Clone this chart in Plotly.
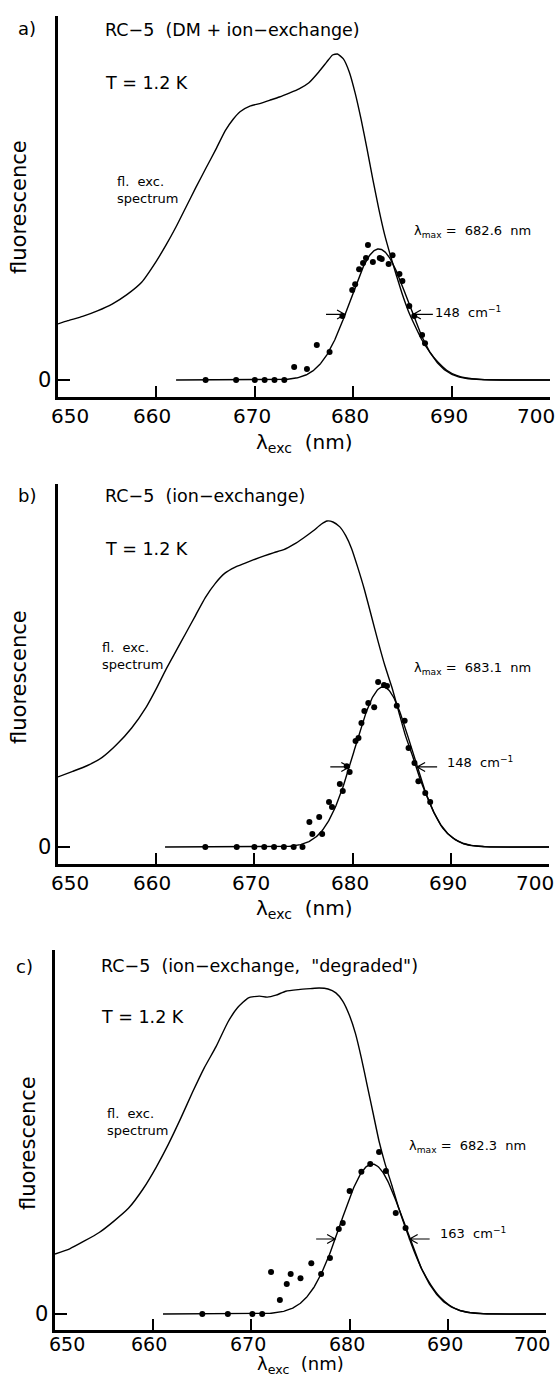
import numpy as np
import plotly.graph_objects as go

W, H = 556, 1376
FONT = "DejaVu Sans"
NB = "\u00a0"

# wavelength axis ticks shared by the three panels
tick_nm = [650, 660, 670, 680, 690, 700]
tick_text = ["650", "660", "670", "680", "690", "700"]

# ---------------- a) RC-5 (DM + ion-exchange) ----------------
a_exc_nm = [650.0, 651.0, 652.5, 654.0, 655.5, 657.0, 658.5, 660.0, 661.0, 662.0,
            663.0, 664.0, 665.0, 666.0, 667.0, 667.8, 668.5, 669.5, 670.5, 671.5,
            672.5, 673.5, 674.5, 675.5, 676.5, 677.3, 677.9, 678.4, 679.0, 679.6,
            680.2, 680.8, 681.4, 682.0, 682.6, 683.2, 683.8, 684.4, 685.0, 685.6,
            686.3, 687.0, 687.8, 688.6, 689.5, 690.5, 691.5, 693.0, 695.0, 700.0]
a_exc = [0.172, 0.182, 0.195, 0.212, 0.233, 0.262, 0.300, 0.365, 0.415, 0.470,
         0.530, 0.590, 0.648, 0.705, 0.765, 0.800, 0.823, 0.840, 0.848, 0.858,
         0.868, 0.880, 0.893, 0.912, 0.945, 0.975, 0.997, 1.000, 0.985, 0.945,
         0.880, 0.800, 0.710, 0.615, 0.525, 0.445, 0.380, 0.320, 0.262, 0.212,
         0.165, 0.122, 0.085, 0.055, 0.030, 0.014, 0.006, 0.002, 0.0, 0.0]
a_pts_nm = [665.0, 668.1, 670.0, 671.0, 672.0, 673.0, 674.0, 675.3, 676.3, 677.6,
            678.9, 679.9, 680.2, 680.6, 681.0, 681.3, 681.5, 682.0, 682.7, 682.9,
            683.6, 684.0, 684.7, 685.0, 685.7, 686.2, 687.0, 687.3]
a_pts = [0.0, 0.0, 0.0, 0.0, 0.0, 0.0, 0.040, 0.034, 0.107, 0.086,
         0.196, 0.276, 0.294, 0.340, 0.359, 0.374, 0.414, 0.362, 0.374, 0.371,
         0.356, 0.383, 0.325, 0.304, 0.227, 0.196, 0.138, 0.113]
a_lmax = 682.6      # nm
a_fwhm = 148        # cm-1
a_amp = 0.402
a_fit_from = 662.0

# ---------------- b) RC-5 (ion-exchange) ----------------
b_exc_nm = [650.0, 651.5, 653.0, 654.5, 656.0, 657.5, 659.0, 660.0, 661.0, 662.0,
            663.0, 664.0, 665.0, 666.0, 667.0, 668.0, 669.0, 670.0, 671.0, 672.0,
            673.0, 674.0, 675.0, 676.0, 676.8, 677.4, 678.0, 678.7, 679.3, 679.9,
            680.5, 681.2, 681.9, 682.6, 683.3, 684.0, 684.7, 685.4, 686.1, 686.8,
            687.5, 688.3, 689.2, 690.2, 691.3, 692.5, 694.0, 700.0]
b_exc = [0.215, 0.232, 0.250, 0.275, 0.315, 0.365, 0.430, 0.485, 0.545, 0.600,
         0.655, 0.710, 0.765, 0.808, 0.840, 0.858, 0.870, 0.882, 0.893, 0.903,
         0.912, 0.928, 0.948, 0.970, 0.990, 1.000, 0.997, 0.982, 0.955, 0.915,
         0.860, 0.790, 0.710, 0.630, 0.555, 0.490, 0.415, 0.340, 0.280, 0.215,
         0.160, 0.105, 0.057, 0.028, 0.010, 0.003, 0.0, 0.0]
b_pts_nm = [665.0, 668.2, 670.0, 671.0, 672.0, 673.0, 674.0, 674.9, 675.6, 676.6,
            675.9, 676.9, 677.6, 677.9, 678.7, 679.0, 679.4, 679.7, 680.3, 680.6,
            680.9, 681.2, 681.6, 682.2, 682.6, 683.2, 683.5, 684.5, 685.3, 685.7,
            686.3, 686.7, 687.4, 687.9]
b_pts = [0.0, 0.0, 0.0, 0.0, 0.0, 0.0, 0.0, 0.0, 0.077, 0.092,
         0.040, 0.040, 0.138, 0.123, 0.193, 0.172, 0.248, 0.230, 0.325, 0.334,
         0.380, 0.417, 0.442, 0.429, 0.506, 0.497, 0.494, 0.433, 0.387, 0.304,
         0.258, 0.202, 0.166, 0.138]
b_lmax = 683.1
b_fwhm = 148
b_amp = 0.491
b_fit_from = 660.9

# ---------------- c) RC-5 (ion-exchange, "degraded") ----------------
c_exc_nm = [650.0, 651.5, 653.0, 654.5, 656.0, 657.5, 659.0, 660.3, 661.5, 662.8,
            664.0, 665.2, 666.4, 667.6, 668.6, 669.7, 670.8, 671.6, 672.5, 673.5,
            674.8, 676.0, 676.9, 677.8, 678.6, 679.3, 680.0, 680.6, 681.2, 681.8,
            682.4, 683.0, 683.6, 684.3, 685.0, 685.8, 686.6, 687.4, 688.3, 689.2,
            690.2, 691.3, 692.5, 694.0, 700.0]
c_exc = [0.184, 0.200, 0.224, 0.250, 0.285, 0.325, 0.385, 0.450, 0.518, 0.600,
         0.680, 0.755, 0.820, 0.895, 0.940, 0.970, 0.975, 0.972, 0.978, 0.990,
         0.995, 0.998, 1.000, 0.997, 0.985, 0.960, 0.915, 0.860, 0.785, 0.700,
         0.615, 0.530, 0.462, 0.395, 0.325, 0.255, 0.190, 0.135, 0.088, 0.052,
         0.026, 0.010, 0.003, 0.0, 0.0]
c_pts_nm = [665.0, 667.6, 670.1, 671.1, 672.0, 672.9, 673.6, 674.0, 675.0, 676.1,
            677.1, 678.0, 678.9, 679.3, 680.0, 681.2, 682.1, 683.0, 683.7, 684.7,
            685.7]
c_pts = [0.0, 0.0, 0.0, 0.0, 0.129, 0.043, 0.092, 0.123, 0.110, 0.156,
         0.123, 0.172, 0.261, 0.279, 0.377, 0.436, 0.460, 0.497, 0.439, 0.310,
         0.264]
c_lmax = 682.3
c_fwhm = 163
c_amp = 0.460
c_fit_from = 661.0

panels = [
    dict(tag="a)", title=f"RC−5{NB}{NB}(DM + ion−exchange)",
         exc_nm=a_exc_nm, exc=a_exc, pts_nm=a_pts_nm, pts=a_pts,
         lmax=a_lmax, fwhm=a_fwhm, amp=a_amp, fit_from=a_fit_from),
    dict(tag="b)", title=f"RC−5{NB}{NB}(ion−exchange)",
         exc_nm=b_exc_nm, exc=b_exc, pts_nm=b_pts_nm, pts=b_pts,
         lmax=b_lmax, fwhm=b_fwhm, amp=b_amp, fit_from=b_fit_from),
    dict(tag="c)", title=f"RC−5{NB}{NB}(ion−exchange,{NB}{NB}\"degraded\")",
         exc_nm=c_exc_nm, exc=c_exc, pts_nm=c_pts_nm, pts=c_pts,
         lmax=c_lmax, fwhm=c_fwhm, amp=c_amp, fit_from=c_fit_from),
]

# page geometry of each panel (pixels) and placement of its texts
geom = [
    dict(x0=58, x1=550, top=16, zero=380, axis=397, unit=326,
         tick_gap=5, tick_size=20,
         tag=(16, 28), title=(103, 30), temp=(103, 83), exc_lbl=(115, 181),
         lmax_lbl=(412, 232), fwhm_lbl=(433, 312), ylab=(19, 207), xlab=(304, 443),
         xlab_size=20, zero_lbl=44),
    dict(x0=58, x1=549, top=484, zero=847, axis=864, unit=326,
         tick_gap=5, tick_size=20,
         tag=(16, 496), title=(103, 496), temp=(103, 549), exc_lbl=(100, 647),
         lmax_lbl=(412, 668), fwhm_lbl=(445, 762), ylab=(19, 677), xlab=(304, 909),
         xlab_size=20, zero_lbl=44),
    dict(x0=55, x1=546, top=950, zero=1314, axis=1330, unit=326,
         tick_gap=1, tick_size=19,
         tag=(14, 966), title=(99, 966), temp=(99, 1017), exc_lbl=(105, 1113),
         lmax_lbl=(407, 1146), fwhm_lbl=(438, 1233), ylab=(28, 1143), xlab=(300, 1365),
         xlab_size=18, zero_lbl=41),
]
tick_shift = {650: 12, 660: -4, 670: -3, 680: -3, 690: -3, 700: -14}

# open arrowhead with its shaft, in pixels relative to the arrow tip
ARROW_IN = "M-19,0 L0,0 M-8,-4.5 L0,0 L-8,4.5"     # points to the right
ARROW_OUT = "M20,0 L0,0 M8,-4.5 L0,0 L8,4.5"       # points to the left


def fx(p):
    return p / W


def fy(p):
    return 1 - p / H


def gauss_fit(center_nm, fwhm_cm, amp, start_nm, end_nm=700.0, n=500):
    """Gaussian band in wavenumber space, evaluated on a wavelength grid."""
    lam = np.linspace(start_nm, end_nm, n)
    nu, nu0 = 1e7 / lam, 1e7 / center_nm
    sigma = fwhm_cm / (2 * np.sqrt(2 * np.log(2)))
    return lam, amp * np.exp(-0.5 * ((nu - nu0) / sigma) ** 2)


fig = go.Figure()
ann = []
shapes = []
txt = dict(family=FONT, color="black")

for i, (d, g) in enumerate(zip(panels, geom), start=1):
    xa = "x" if i == 1 else f"x{i}"
    ya = "y" if i == 1 else f"y{i}"
    xkey = "xaxis" if i == 1 else f"xaxis{i}"
    ykey = "yaxis" if i == 1 else f"yaxis{i}"

    fig.add_trace(go.Scatter(x=d["exc_nm"], y=d["exc"], mode="lines",
                             line=dict(color="black", width=1.4, shape="spline", smoothing=0.5),
                             xaxis=xa, yaxis=ya, hoverinfo="skip"))
    lam, fit = gauss_fit(d["lmax"], d["fwhm"], d["amp"], d["fit_from"])
    fig.add_trace(go.Scatter(x=lam, y=fit, mode="lines",
                             line=dict(color="black", width=1.4),
                             xaxis=xa, yaxis=ya, hoverinfo="skip"))
    fig.add_trace(go.Scatter(x=d["pts_nm"], y=d["pts"], mode="markers",
                             marker=dict(color="black", size=6),
                             xaxis=xa, yaxis=ya, hoverinfo="skip"))

    y_lo = -(g["axis"] - g["zero"]) / g["unit"]
    y_hi = (g["zero"] - g["top"]) / g["unit"]
    fig.update_layout(**{
        xkey: dict(domain=[fx(g["x0"]), fx(g["x1"])], range=[650, 700], anchor=ya,
                   showline=True, linewidth=3, linecolor="black", mirror=False,
                   ticks="inside", tickvals=tick_nm[1:], ticklen=11, tickwidth=2,
                   tickcolor="black", showticklabels=False, showgrid=False,
                   zeroline=False, fixedrange=True),
        ykey: dict(domain=[fy(g["axis"]), fy(g["top"])], range=[y_lo, y_hi], anchor=xa,
                   showline=True, linewidth=3, linecolor="black", mirror=False,
                   ticks="inside", tickvals=[0], ticklen=12, tickwidth=2,
                   tickcolor="black", showticklabels=False, showgrid=False,
                   zeroline=False, fixedrange=True),
    })

    # wavelength tick labels
    for v, t in zip(tick_nm, tick_text):
        ann.append(dict(x=v, xref=xa, y=fy(g["axis"] + g["tick_gap"]), yref="paper",
                        text=t, showarrow=False, xanchor="center", yanchor="top",
                        xshift=tick_shift[v], font=dict(size=g["tick_size"], **txt)))
    ann.append(dict(x=fx(g["zero_lbl"]), xref="paper", y=0, yref=ya, text="0",
                    showarrow=False, xanchor="center", yanchor="middle",
                    font=dict(size=21, **txt)))
    ann.append(dict(x=fx(g["xlab"][0]), y=fy(g["xlab"][1]), xref="paper", yref="paper",
                    text=f"λ<sub>exc</sub>{NB}{NB}(nm)", showarrow=False,
                    xanchor="center", yanchor="middle",
                    font=dict(size=g["xlab_size"], **txt)))
    ann.append(dict(x=fx(g["ylab"][0]), y=fy(g["ylab"][1]), xref="paper", yref="paper",
                    text="fluorescence", textangle=-90, showarrow=False,
                    xanchor="center", yanchor="middle", font=dict(size=21, **txt)))
    ann.append(dict(x=fx(g["tag"][0]), y=fy(g["tag"][1]), xref="paper", yref="paper",
                    text=d["tag"], showarrow=False, xanchor="left", yanchor="middle",
                    font=dict(size=18, **txt)))
    ann.append(dict(x=fx(g["title"][0]), y=fy(g["title"][1]), xref="paper", yref="paper",
                    text=d["title"], showarrow=False, xanchor="left", yanchor="middle",
                    font=dict(size=17.5, **txt)))
    ann.append(dict(x=fx(g["temp"][0]), y=fy(g["temp"][1]), xref="paper", yref="paper",
                    text="T = 1.2 K", showarrow=False, xanchor="left", yanchor="middle",
                    font=dict(size=17.5, **txt)))
    ann.append(dict(x=fx(g["exc_lbl"][0]), y=fy(g["exc_lbl"][1] + 9), xref="paper",
                    yref="paper", text="fl.  exc.<br>spectrum", align="left",
                    showarrow=False, xanchor="left", yanchor="middle",
                    font=dict(size=13, **txt)))
    ann.append(dict(x=fx(g["lmax_lbl"][0]), y=fy(g["lmax_lbl"][1]), xref="paper",
                    yref="paper",
                    text=f"λ<sub>max</sub>{NB}={NB}{NB}{d['lmax']:.1f}{NB}{NB}nm",
                    showarrow=False, xanchor="left", yanchor="middle",
                    font=dict(size=13, **txt)))
    ann.append(dict(x=fx(g["fwhm_lbl"][0]), y=fy(g["fwhm_lbl"][1]), xref="paper",
                    yref="paper", text=f"{d['fwhm']}{NB}{NB}cm<sup>−1</sup>",
                    showarrow=False, xanchor="left", yanchor="middle",
                    font=dict(size=13, **txt)))

    # arrows marking the full width at half maximum of the fitted band
    nu0 = 1e7 / d["lmax"]
    lam_lo = 1e7 / (nu0 + d["fwhm"] / 2)
    lam_hi = 1e7 / (nu0 - d["fwhm"] / 2)
    for lam_edge, path in ((lam_lo, ARROW_IN), (lam_hi, ARROW_OUT)):
        shapes.append(dict(type="path", xref=xa, yref=ya,
                           xsizemode="pixel", ysizemode="pixel",
                           xanchor=lam_edge, yanchor=d["amp"] / 2, path=path,
                           line=dict(color="black", width=1.2)))

fig.update_layout(width=W, height=H, margin=dict(l=0, r=0, t=0, b=0),
                  paper_bgcolor="white", plot_bgcolor="white", showlegend=False,
                  annotations=ann, shapes=shapes,
                  font=dict(family=FONT, color="black"))

fig.write_html("out.html")
